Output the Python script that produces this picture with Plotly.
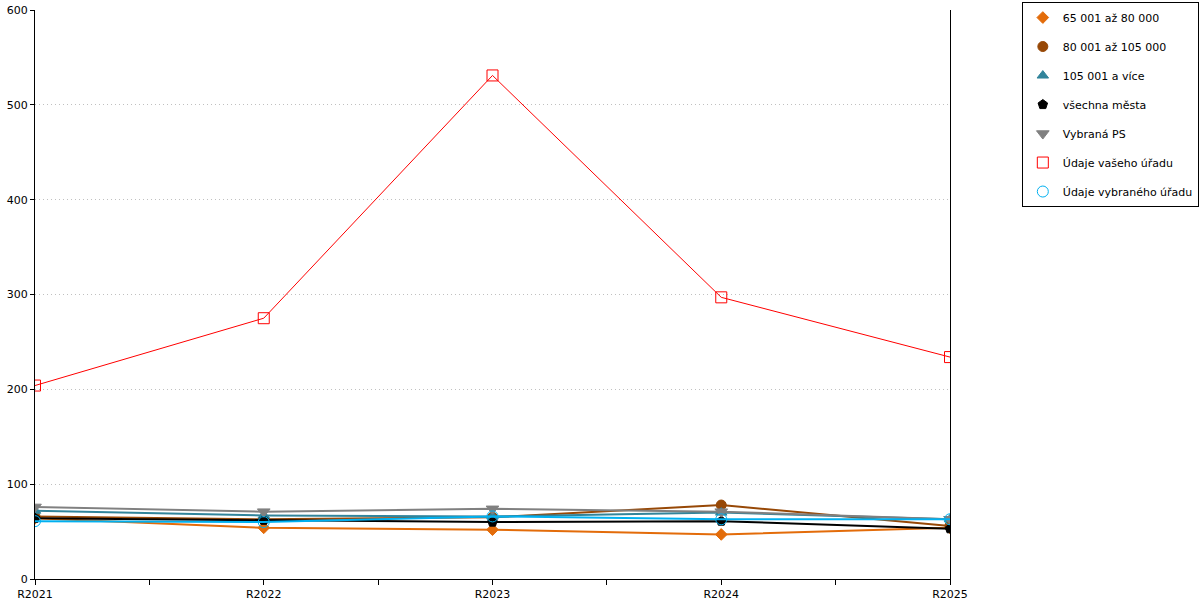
import plotly.graph_objects as go

years = ["R2021", "R2022", "R2023", "R2024", "R2025"]

s_65_80 = [64, 54, 52, 47, 54]
s_80_105 = [66, 63, 65, 78, 56]
s_105_plus = [72, 67, 66, 70, 63]
s_all_cities = [64, 62, 60, 61, 53]
s_selected_ps = [76, 71, 74, 71, 63]
s_your_office = [204, 275, 531, 297, 234]
s_selected_office = [61, 60, 66, 63, 63]

series = [
    ("65 001 až 80 000", s_65_80, "#E36C0A", "diamond", 2, 9),
    ("80 001 až 105 000", s_80_105, "#974806", "circle", 2, 10),
    ("105 001 a více", s_105_plus, "#31849B", "triangle-up", 2, 10),
    ("všechna města", s_all_cities, "#000000", "pentagon", 2, 10),
    ("Vybraná PS", s_selected_ps, "#808080", "triangle-down", 2, 11),
    ("Údaje vašeho úřadu", s_your_office, "#FF0000", "square-open", 1, 11),
    ("Údaje vybraného úřadu", s_selected_office, "#00B0F0", "circle-open", 2, 11),
]

x = list(range(len(years)))

fig = go.Figure()
for i, (name, vals, color, symbol, lw, ms) in enumerate(series):
    fig.add_trace(go.Scatter(
        x=x, y=vals, mode="lines+markers", name=name,
        line=dict(color=color, width=lw),
        marker=dict(symbol=symbol, size=ms, color=color,
                    line=dict(color=color, width=1)),
        showlegend=False, legendgroup=str(i)))
    # legend entry shows the marker only
    fig.add_trace(go.Scatter(
        x=[None], y=[None], mode="markers", name=name,
        marker=dict(symbol=symbol, size=ms, color=color,
                    line=dict(color=color, width=1)),
        legendgroup=str(i)))

fig.update_layout(
    width=1200, height=600,
    margin=dict(l=35, r=250, t=10, b=21, autoexpand=False),
    paper_bgcolor="white", plot_bgcolor="white",
    font=dict(family="DejaVu Sans", size=11, color="#000000"),
    legend=dict(x=1.0785, y=1.014, xanchor="left", yanchor="top",
                bordercolor="#000000", borderwidth=1,
                font=dict(size=11), tracegroupgap=10),
    xaxis=dict(range=[0, len(years) - 1], tickvals=x, ticktext=years,
               automargin=False,
               showline=True, linecolor="#000000", linewidth=1,
               ticks="outside", ticklen=5, tickcolor="#000000",
               showgrid=False, zeroline=False,
               minor=dict(dtick=0.5, ticks="outside", ticklen=5,
                          tickcolor="#000000", showgrid=False)),
    yaxis=dict(range=[0, 600], dtick=100, automargin=False,
               showline=True, linecolor="#000000", linewidth=1, mirror=True,
               ticks="outside", ticklen=4, tickcolor="#000000",
               showgrid=True, gridcolor="#c0c0c0", griddash="1px,3px",
               zeroline=False),
)

# drop the default 8px page margin so the figure fills the window exactly
fig.write_html("out.html", config={"displayModeBar": False},
               post_script="document.body.style.margin = '0';")
